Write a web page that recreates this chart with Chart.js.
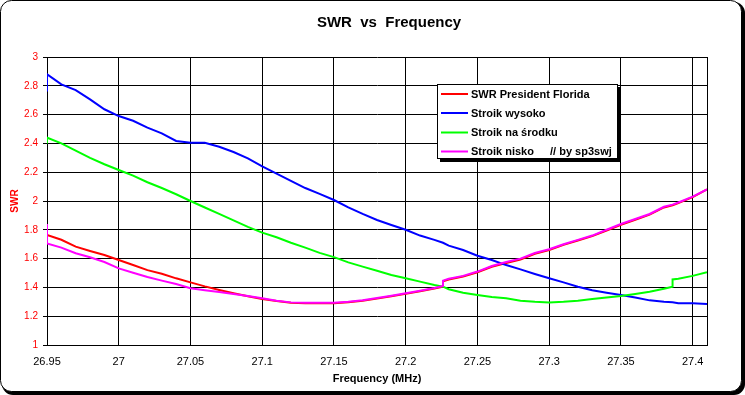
<!DOCTYPE html>
<html>
<head>
<meta charset="utf-8">
<script src="https://cdn.jsdelivr.net/npm/chart.js@4.4.1/dist/chart.umd.min.js"></script>
<style>
html,body{margin:0;padding:0;background:#fff;}
#wrap{width:745px;height:395px;position:relative;}
</style>
</head>
<body>
<div id="wrap"><canvas id="c" width="745" height="395"></canvas></div>
<script>
// ---- data ----
const freq = [26.95, 26.95, 26.96, 26.97, 26.98, 26.99, 27.00, 27.01, 27.02, 27.03, 27.04, 27.05, 27.06, 27.07, 27.08, 27.09,
  27.10, 27.11, 27.12, 27.13, 27.14, 27.15, 27.16, 27.17, 27.18, 27.19, 27.20, 27.21, 27.22, 27.226, 27.226,
  27.23, 27.24, 27.25, 27.26, 27.27, 27.28, 27.29, 27.30, 27.31, 27.32, 27.33, 27.34, 27.35, 27.36, 27.37, 27.38,
  27.386, 27.386, 27.39, 27.40, 27.41];

const swrPresidentFlorida = [1.84, 1.764, 1.731, 1.683, 1.653, 1.625, 1.59, 1.556, 1.52, 1.495, 1.463, 1.435, 1.407, 1.382, 1.359, 1.338,
  1.32, 1.305, 1.293, 1.29, 1.29, 1.29, 1.297, 1.308, 1.322, 1.338, 1.355, 1.373, 1.392, 1.405, 1.443,
  1.455, 1.475, 1.505, 1.543, 1.57, 1.594, 1.633, 1.66, 1.695, 1.726, 1.756, 1.795, 1.835, 1.87, 1.905, 1.955,
  1.97, 1.97, 1.985, 2.027, 2.08];

const stroikWysoko = [2.76, 2.88, 2.81, 2.77, 2.706, 2.637, 2.59, 2.557, 2.51, 2.47, 2.417, 2.405, 2.405, 2.377, 2.34, 2.296,
  2.24, 2.19, 2.14, 2.09, 2.05, 2.007, 1.956, 1.91, 1.868, 1.833, 1.80, 1.76, 1.73, 1.71, 1.71,
  1.69, 1.66, 1.62, 1.59, 1.555, 1.525, 1.493, 1.463, 1.435, 1.405, 1.38, 1.363, 1.347, 1.33, 1.31, 1.30,
  1.297, 1.297, 1.29, 1.29, 1.285];

const stroikNaSrodku = [2.40, 2.44, 2.40, 2.35, 2.30, 2.255, 2.215, 2.176, 2.13, 2.09, 2.047, 2.00, 1.955, 1.91, 1.865, 1.82,
  1.78, 1.748, 1.71, 1.676, 1.64, 1.61, 1.574, 1.544, 1.516, 1.486, 1.463, 1.44, 1.417, 1.405, 1.405,
  1.387, 1.363, 1.347, 1.333, 1.324, 1.308, 1.30, 1.296, 1.30, 1.308, 1.32, 1.33, 1.34, 1.354, 1.37, 1.39,
  1.405, 1.455, 1.46, 1.48, 1.505];

const stroikNisko = [1.84, 1.706, 1.676, 1.637, 1.609, 1.576, 1.532, 1.502, 1.472, 1.447, 1.424, 1.394, 1.38, 1.368, 1.354, 1.34,
  1.324, 1.308, 1.296, 1.294, 1.294, 1.294, 1.30, 1.31, 1.326, 1.342, 1.359, 1.377, 1.396, 1.41, 1.447,
  1.46, 1.48, 1.51, 1.549, 1.576, 1.60, 1.639, 1.665, 1.70, 1.73, 1.76, 1.80, 1.84, 1.875, 1.91, 1.96,
  1.975, 1.975, 1.99, 2.03, 2.08];

const seriesNames = ['SWR President Florida', 'Stroik wysoko', 'Stroik na środku', 'Stroik nisko'];
const legendNote = '// by sp3swj';
const xTicks = [26.95, 27, 27.05, 27.1, 27.15, 27.2, 27.25, 27.3, 27.35, 27.4];
const yTicks = [1, 1.2, 1.4, 1.6, 1.8, 2, 2.2, 2.4, 2.6, 2.8, 3];
const chartTitle = 'SWR  vs  Frequency';
const xTitle = 'Frequency (MHz)';
const yTitle = 'SWR';

// ---- chart ----
const FONT = "'Liberation Sans', Arial, sans-serif";
const colors = ['#FF0000', '#0000FF', '#00FF00', '#FF00FF'];
const allSeries = [swrPresidentFlorida, stroikWysoko, stroikNaSrodku, stroikNisko];

const datasets = allSeries.map((vals, k) => ({
  label: seriesNames[k],
  data: freq.map((f, i) => ({x: f, y: vals[i]})),
  borderColor: colors[k],
  backgroundColor: colors[k],
  borderWidth: 2,
  pointRadius: 0,
  tension: 0,
  fill: false,
  order: 4 - k
}));

function roundRect(ctx, x, y, w, h, r) {
  ctx.beginPath();
  ctx.moveTo(x + r, y);
  ctx.lineTo(x + w - r, y);
  ctx.arcTo(x + w, y, x + w, y + r, r);
  ctx.lineTo(x + w, y + h - r);
  ctx.arcTo(x + w, y + h, x + w - r, y + h, r);
  ctx.lineTo(x + r, y + h);
  ctx.arcTo(x, y + h, x, y + h - r, r);
  ctx.lineTo(x, y + r);
  ctx.arcTo(x, y, x + r, y, r);
  ctx.closePath();
}

const framePlugin = {
  id: 'frame',
  beforeDraw(chart) {
    const ctx = chart.ctx;
    ctx.save();
    ctx.fillStyle = '#000';
    roundRect(ctx, 2, 2, 743, 393, 11);
    ctx.fill();
    ctx.fillStyle = '#fff';
    roundRect(ctx, 0.5, 0.5, 741, 391, 11);
    ctx.fill();
    ctx.strokeStyle = '#000';
    ctx.lineWidth = 1;
    ctx.stroke();
    ctx.restore();
  },
  afterDatasetsDraw(chart) {
    const ctx = chart.ctx;
    const a = chart.chartArea;
    ctx.save();
    ctx.strokeStyle = '#000';
    ctx.lineWidth = 1;
    ctx.beginPath();
    ctx.moveTo(Math.round(a.right) + 0.5, a.top);
    ctx.lineTo(Math.round(a.right) + 0.5, a.bottom + 0.5);
    ctx.stroke();
    ctx.restore();
  },
  afterDraw(chart) {
    const ctx = chart.ctx;
    ctx.save();
    // title
    ctx.fillStyle = '#000';
    ctx.font = "bold 15px " + FONT;
    ctx.textAlign = 'center';
    ctx.textBaseline = 'middle';
    ctx.fillText(chartTitle, 389, 23);
    // legend box
    const bx = 437, by = 84, bw = 181, bh = 75;
    ctx.fillStyle = '#000';
    ctx.fillRect(bx + 3, by + 3, bw, bh);
    ctx.fillStyle = '#fff';
    ctx.fillRect(bx, by, bw, bh);
    ctx.strokeStyle = '#000';
    ctx.lineWidth = 1;
    ctx.strokeRect(bx + 0.5, by + 0.5, bw - 1, bh - 1);
    const rows = [94, 113, 132.5, 151.5];
    ctx.font = "bold 11px " + FONT;
    ctx.textAlign = 'left';
    ctx.textBaseline = 'middle';
    chart.data.datasets.forEach((ds, i) => {
      const y = rows[i];
      ctx.strokeStyle = ds.borderColor;
      ctx.lineWidth = 2;
      ctx.beginPath();
      ctx.moveTo(441, y);
      ctx.lineTo(468, y);
      ctx.stroke();
      ctx.fillStyle = '#000';
      ctx.fillText(ds.label, 471, y + 0.5);
    });
    ctx.fillText(legendNote, 550, rows[3] + 0.5);
    ctx.restore();
  }
};

new Chart(document.getElementById('c'), {
  type: 'line',
  data: { datasets },
  options: {
    responsive: false,
    animation: false,
    events: [],
    layout: { padding: { top: 57, right: 38, left: 0, bottom: 0 } },
    plugins: { legend: { display: false }, title: { display: false }, tooltip: { enabled: false } },
    scales: {
      x: {
        type: 'linear',
        min: 26.95,
        max: 27.41,
        afterBuildTicks: s => { s.ticks = xTicks.map(v => ({value: v})); },
        afterFit: s => { s.height = 50; },
        grid: { color: '#000', lineWidth: 1, drawTicks: false },
        border: { display: true, color: '#000', width: 1 },
        ticks: {
          autoSkip: false, maxRotation: 0, minRotation: 0,
          color: '#000', padding: 10,
          font: { family: FONT, size: 11 },
          callback: v => String(Math.round(v * 100) / 100)
        },
        title: {
          display: true, text: xTitle, color: '#000',
          font: { family: FONT, size: 11, weight: 'bold' },
          padding: { top: 0, bottom: 9 }
        }
      },
      y: {
        type: 'linear',
        min: 1,
        max: 3,
        afterBuildTicks: s => { s.ticks = yTicks.map(v => ({value: v})); },
        afterFit: s => { s.width = 47; },
        grid: { color: '#000', lineWidth: 1, drawTicks: true, tickLength: 4 },
        border: { display: true, color: '#000', width: 1 },
        ticks: {
          color: '#FF0000', padding: 5,
          font: { family: FONT, size: 10 },
          callback: v => String(Math.round(v * 10) / 10)
        },
        title: {
          display: true, text: yTitle, color: '#FF0000',
          font: { family: FONT, size: 10, weight: 'bold' },
          padding: { top: 9, bottom: 0 }
        }
      }
    }
  },
  plugins: [framePlugin]
});
</script>
</body>
</html>
